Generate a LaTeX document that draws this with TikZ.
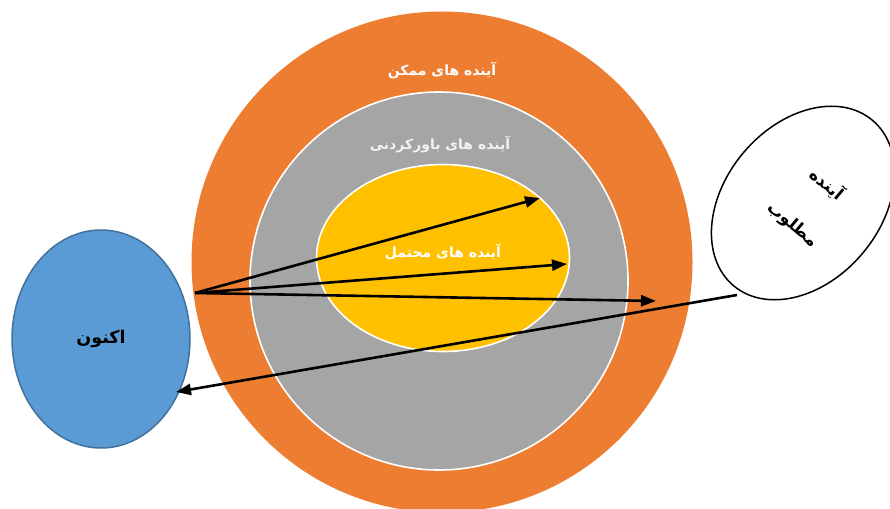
\documentclass[tikz,border=0pt]{standalone}
\usepackage{fontspec}
\newfontfamily\arabicfont[Script=Arabic]{DejaVu Sans}
\TeXXeTstate=1
\usetikzlibrary{shapes.geometric,arrows.meta}

\definecolor{possorange}{HTML}{ED7D31}
\definecolor{plausgray}{HTML}{A5A5A5}
\definecolor{probyellow}{HTML}{FFC000}
\definecolor{nowblue}{HTML}{5B9BD5}
\definecolor{nowedge}{HTML}{41719C}

\begin{document}
\begin{tikzpicture}[
    x=1pt, y=-1pt,
    zone/.style={circle, inner sep=0pt, draw=white, line width=1.6pt},
    ztext/.style={font=\arabicfont\bfseries\fontsize{14}{16}\selectfont, text=white},
    blob/.style={ellipse, inner sep=0pt, line width=1.5pt},
    arr/.style={-{Triangle[length=15pt,width=11pt]}, line width=2.6pt}
  ]
    \useasboundingbox (0,0) rectangle (890,508);

    % nested cones of futures
    \node[zone, fill=possorange, draw=none, minimum size=501pt] (possible) at (442,262) {};
    \node[zone, fill=plausgray, minimum size=378pt] (plausible) at (439,281) {};
    \node[blob, fill=probyellow, draw=white, line width=1.6pt,
          minimum width=253pt, minimum height=187pt] (probable) at (443,258) {};

    \node[ztext] (tpossible)  at (442,71)  {\beginR آینده های ممکن\endR};
    \node[ztext, text=white!95!black] (tplausible) at (440,145) {\beginR آینده های باورکردنی\endR};
    \node[ztext] (tprobable)  at (443,252) {\beginR آینده های محتمل\endR};

    % present and desired future
    \node[blob, fill=nowblue, draw=nowedge, minimum width=178pt, minimum height=218pt,
          font=\arabicfont\bfseries\fontsize{17.5}{20}\selectfont] (now) at (101,339) {\beginR اکنون\endR};
    \node[blob, draw=black, fill=white, rotate=-40,
          minimum width=156pt, minimum height=216pt] (desired) at (803,203) {};
    \node[rotate=-40, align=center,
          font=\arabicfont\bfseries\fontsize{16.5}{52}\selectfont] (tdesired) at (810,204)
          {\beginR آینده\endR\\\beginR مطلوب\endR};

    % arrow ends
    \coordinate (src) at (195,293);
    \coordinate (e1) at (540,198);
    \coordinate (e2) at (567,264);
    \coordinate (e3) at (656,301);
    \coordinate (back) at (737,295);
    \coordinate (hit) at (176,392);

    \foreach \b in {e1, e2, e3} \draw[arr] (src) -- (\b);
    \draw[arr] (back) -- (hit);
\end{tikzpicture}
\end{document}
